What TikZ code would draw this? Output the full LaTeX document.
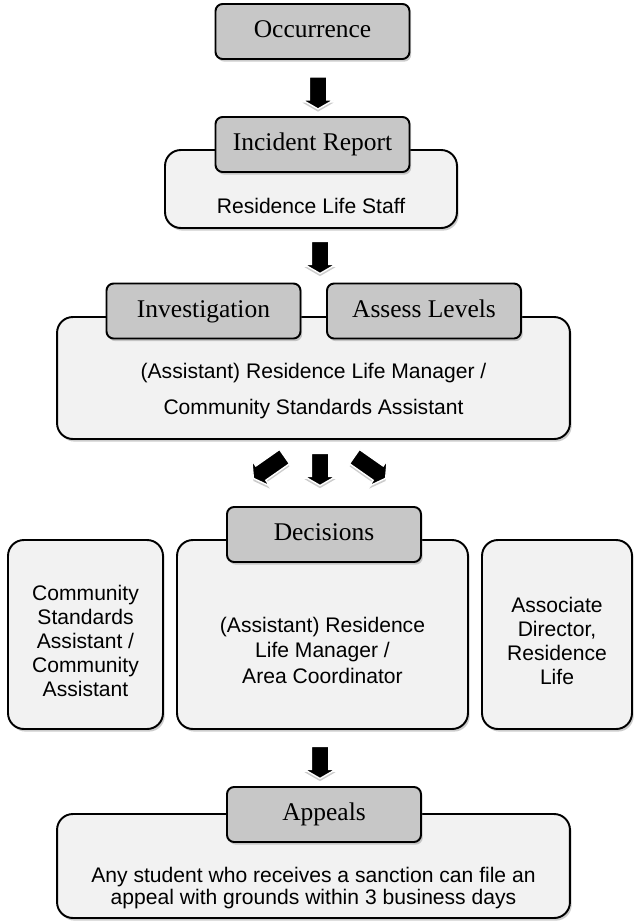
\documentclass[tikz,border=0pt]{standalone}
\usepackage{fontspec}
\setmainfont{Liberation Serif}
\setsansfont{Liberation Sans}
\usepackage{tikz}
\usetikzlibrary{shapes.arrows}
\usetikzlibrary{shadows}
\usetikzlibrary{positioning}
\definecolor{mgray}{rgb}{0.78, 0.78, 0.78}
\definecolor{mlight}{rgb}{0.95, 0.95, 0.95}
\tikzset{tab/.style = {draw, line width=1.1pt, fill=mgray, rounded corners=4pt,
                       minimum width=3.88cm, minimum height=1.1cm,
                       text height=10pt, text depth=3pt,
                       font=\fontsize{14.5}{17}\selectfont,
                       drop shadow={opacity=0.4, shadow xshift=1pt, shadow yshift=-1.5pt}}}
\tikzset{panel/.style = {draw, line width=1.1pt, fill=mlight, rounded corners=9pt,
                         drop shadow={opacity=0.4, shadow xshift=1pt, shadow yshift=-1.5pt}}}
\tikzset{paneltext/.style = {align=center, inner sep=0pt,
                             font=\sffamily\fontsize{12}{13.6}\selectfont}}
\tikzset{bigarrow/.style = {single arrow, fill=black, draw=white, line width=0.8pt,
                            minimum height=0.64cm, inner xsep=0pt, inner ysep=0.16cm,
                            single arrow head extend=0.14cm, single arrow tip angle=120,
                            drop shadow={opacity=0.4, shadow xshift=0pt, shadow yshift=-1.5pt}}}

\begin{document}
\begin{tikzpicture}[x=0.02cm, y=-0.02cm]
      \useasboundingbox (0, 0) rectangle (634, 923);

      \node [tab] (occ) at (312.5, 31.5) {Occurrence};
      \node [bigarrow, rotate=-90] (arr1) at (318, 90.5) {};

      \node [panel, minimum width=5.84cm, minimum height=1.56cm] (staffbox) at (311, 189) {};
      \node [tab] (inc) at (312.5, 144.5) {Incident Report};
      \node [paneltext] (staff) at (311, 206) {Residence Life Staff};
      \node [bigarrow, rotate=-90] (arr2) at (320, 255) {};

      \node [panel, minimum width=10.26cm, minimum height=2.44cm] (mgrbox) at (313.5, 378) {};
      \node [tab] (inv) at (203.5, 311) {Investigation};
      \node [tab] (lvl) at (424, 311) {Assess Levels};
      \node [paneltext, font=\sffamily\fontsize{12}{21}\selectfont] (mgr) at (313.5, 391)
        {(Assistant) Residence Life Manager /\\Community Standards Assistant};

      \foreach \ang/\xx/\yy/\len in {215/271/466/0.76cm, -90/320/467/0.64cm, -35/368/466/0.76cm} {
        \node [bigarrow, rotate=\ang, minimum height=\len] (arr\xx) at (\xx, \yy) {};
      }

      \node [panel, minimum width=3.1cm, minimum height=3.78cm] (csabox) at (85.5, 634.5) {};
      \node [panel, minimum width=5.82cm, minimum height=3.78cm] (rlmbox) at (322.5, 634.5) {};
      \node [panel, minimum width=3.0cm, minimum height=3.78cm] (adbox) at (557, 634.5) {};
      \node [tab] (dec) at (324, 534.5) {Decisions};
      \node [paneltext] (csa) at (85.5, 641)
        {Community\\Standards\\Assistant /\\Community\\Assistant};
      \node [paneltext, font=\sffamily\fontsize{12}{14.5}\selectfont] (rlm) at (322.5, 650)
        {(Assistant) Residence\\Life Manager /\\Area Coordinator};
      \node [paneltext] (ad) at (557, 641) {Associate\\Director,\\Residence\\Life};

      \node [bigarrow, rotate=-90] (arr4) at (320, 760) {};

      \node [panel, minimum width=10.26cm, minimum height=2.08cm] (appbox) at (313.5, 866) {};
      \node [tab] (app) at (324, 814.5) {Appeals};
      \node [paneltext, font=\sffamily\fontsize{12}{13}\selectfont] (any) at (313.5, 888)
        {Any student who receives a sanction can file an\\appeal with grounds within 3 business days};
\end{tikzpicture}
\end{document}
